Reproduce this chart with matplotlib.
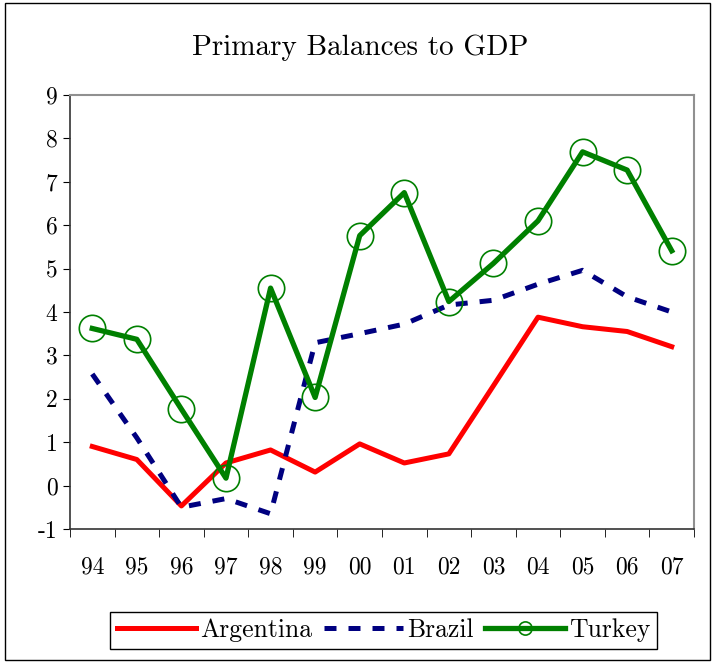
import matplotlib.pyplot as plt
from matplotlib.patches import Rectangle

plt.rcParams['font.family'] = ['cmr10', 'DejaVu Serif']
plt.rcParams['axes.formatter.use_mathtext'] = True

years = ['94', '95', '96', '97', '98', '99', '00', '01', '02', '03', '04', '05', '06', '07']
argentina = [0.9, 0.6, -0.47, 0.52, 0.82, 0.31, 0.96, 0.52, 0.73, 2.3, 3.88, 3.66, 3.55, 3.2]
brazil = [2.57, 1.1, -0.5, -0.3, -0.65, 3.29, 3.5, 3.72, 4.16, 4.27, 4.64, 4.96, 4.35, 4.0]
turkey = [3.62, 3.37, 1.76, 0.17, 4.55, 2.03, 5.76, 6.75, 4.24, 5.12, 6.1, 7.69, 7.27, 5.41]
yticks = [-1, 0, 1, 2, 3, 4, 5, 6, 7, 8, 9]

fig = plt.figure(figsize=(7.14, 6.62), dpi=100)
ax = fig.add_axes([0.098, 0.201, 0.874, 0.6555])
x = range(len(years))

ax.plot(x, argentina, color='#ff0000', lw=3.6, label='Argentina')
ax.plot(x, brazil, color='#000080', lw=3.6, dashes=(2.4, 2.4), label='Brazil')
ax.plot(x, turkey, color='#008000', lw=3.8, marker='o', ms=19, mfc='none', mec='#008000',
        mew=1.2, label='Turkey')

ax.set_xlim(-0.5, len(years) - 0.5)
ax.set_ylim(-1, 9)
ax.set_yticks(yticks)
ax.set_yticklabels([str(v) for v in yticks])
ax.set_xticks(list(x))
ax.set_xticklabels(years)
ax.set_xticks([i - 0.5 for i in range(len(years) + 1)], minor=True)
ax.tick_params(axis='x', which='major', length=0, pad=20, labelsize=17)
ax.tick_params(axis='x', which='minor', length=6, direction='out', color='black')
ax.tick_params(axis='y', length=5, direction='out', labelsize=17, pad=4)

for side in ['top', 'right']:
    ax.spines[side].set_color('#909090')
    ax.spines[side].set_linewidth(1.5)
for side in ['left', 'bottom']:
    ax.spines[side].set_color('#333333')
    ax.spines[side].set_linewidth(1.2)

fig.text(0.505, 0.928, 'Primary Balances to GDP', ha='center', va='center', fontsize=21)

leg = ax.legend(loc='center', bbox_to_anchor=(0.537, 0.048), bbox_transform=fig.transFigure,
                ncol=3, fontsize=18.5, handlelength=3.1, handletextpad=0.15, columnspacing=0.45,
                numpoints=1, markerscale=0.5, fancybox=False, edgecolor='black',
                framealpha=1, borderpad=0.25)
leg.get_frame().set_linewidth(1.0)

fig.patches.append(Rectangle((5 / 714, 2 / 662), 705 / 714, 657 / 662, transform=fig.transFigure,
                             fill=False, edgecolor='black', lw=1.0))

plt.savefig('out.png', dpi=100)
